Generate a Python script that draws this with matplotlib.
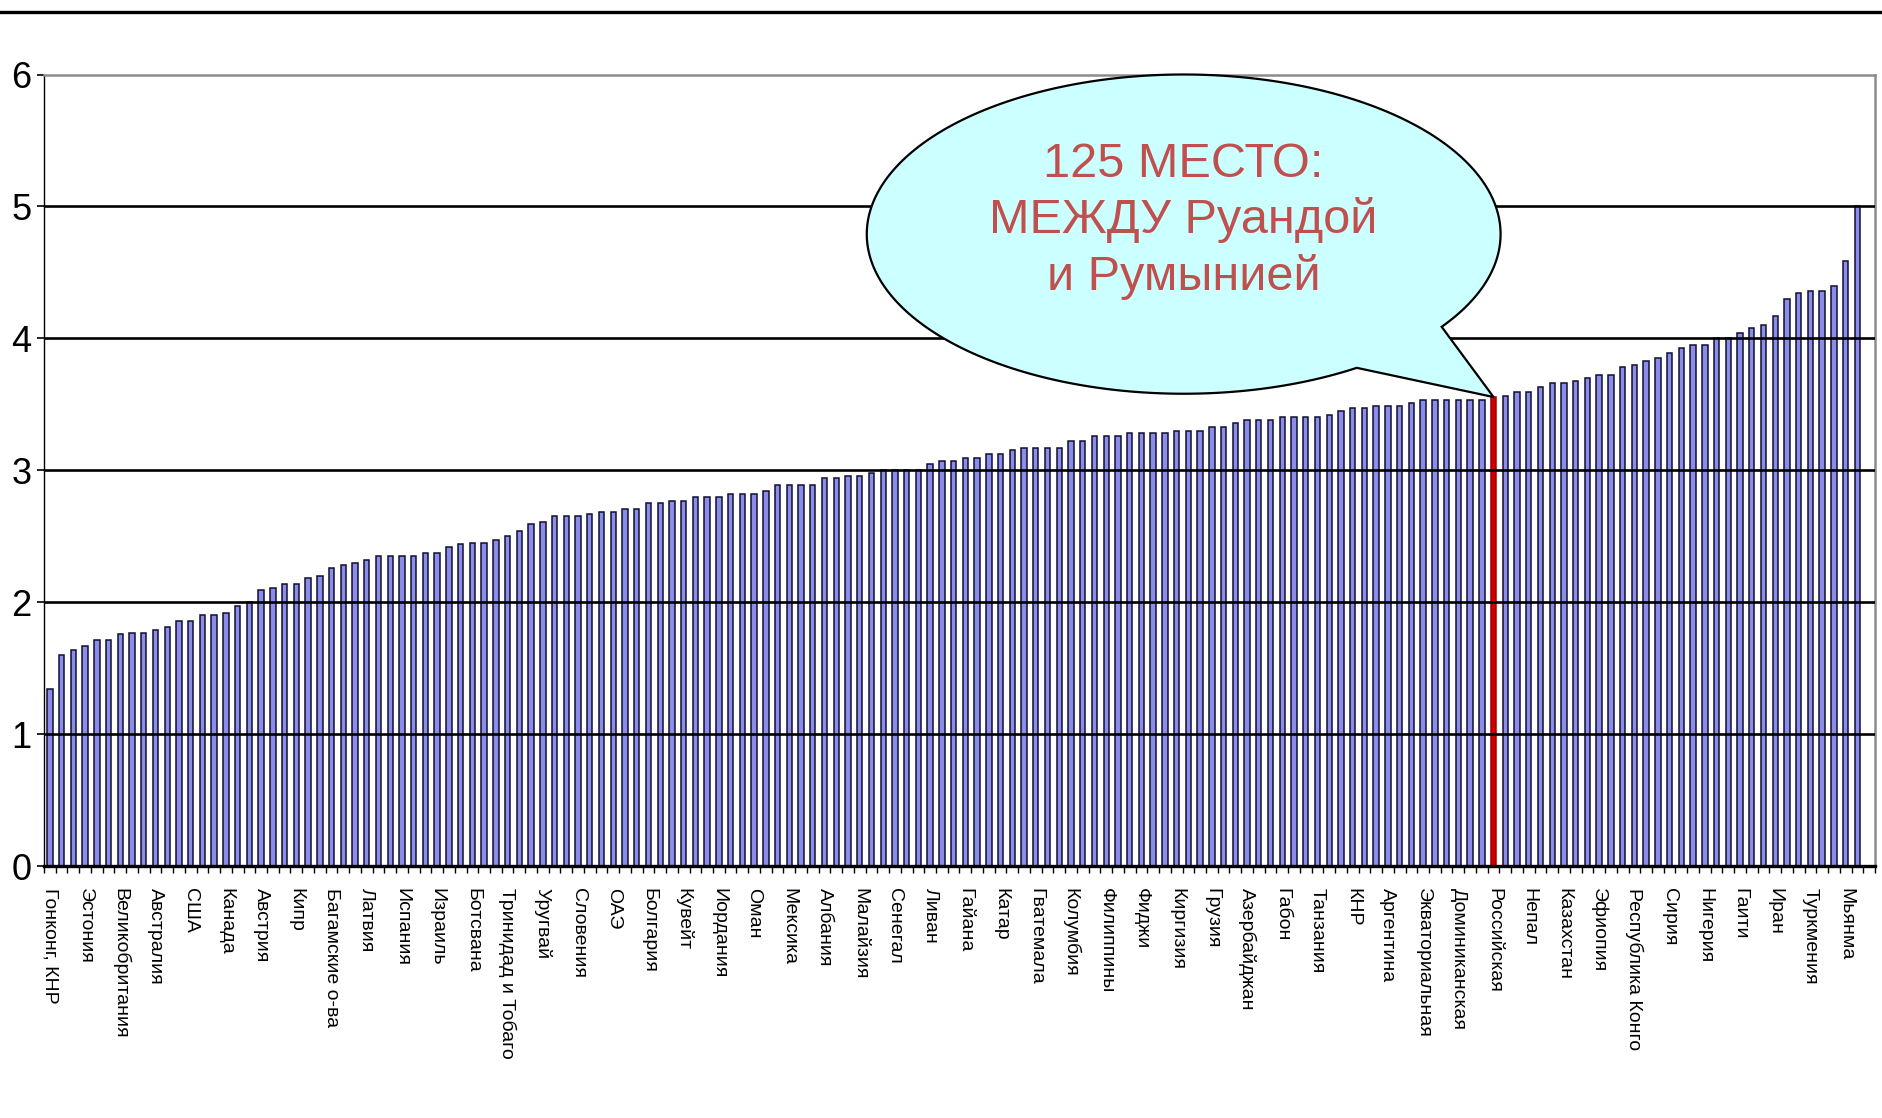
import numpy as np
import matplotlib
matplotlib.use("Agg")
import matplotlib.pyplot as plt
from matplotlib.patches import Polygon
from matplotlib.lines import Line2D

plt.rcParams['font.family'] = ['Liberation Sans', 'DejaVu Sans']

# ---- data: indicator values by country, sorted ascending ----
values = [
    1.34, 1.60, 1.64, 1.67, 1.71, 1.71, 1.76, 1.77, 1.77, 1.79,
    1.81, 1.86, 1.86, 1.90, 1.90, 1.92, 1.97, 2.00, 2.09, 2.11,
    2.14, 2.14, 2.18, 2.20, 2.26, 2.28, 2.30, 2.32, 2.35, 2.35,
    2.35, 2.35, 2.37, 2.37, 2.42, 2.44, 2.45, 2.45, 2.47, 2.50,
    2.54, 2.59, 2.61, 2.65, 2.65, 2.65, 2.67, 2.68, 2.68, 2.71,
    2.71, 2.75, 2.75, 2.77, 2.77, 2.80, 2.80, 2.80, 2.82, 2.82,
    2.82, 2.84, 2.89, 2.89, 2.89, 2.89, 2.94, 2.94, 2.96, 2.96,
    2.98, 3.00, 3.00, 3.00, 3.00, 3.05, 3.07, 3.07, 3.09, 3.09,
    3.12, 3.12, 3.15, 3.17, 3.17, 3.17, 3.17, 3.22, 3.22, 3.26,
    3.26, 3.26, 3.28, 3.28, 3.28, 3.28, 3.30, 3.30, 3.30, 3.33,
    3.33, 3.36, 3.38, 3.38, 3.38, 3.40, 3.40, 3.40, 3.40, 3.42,
    3.45, 3.47, 3.47, 3.49, 3.49, 3.49, 3.51, 3.53, 3.53, 3.53,
    3.53, 3.53, 3.53, 3.555, 3.565, 3.59, 3.59, 3.63, 3.66, 3.66,
    3.68, 3.70, 3.72, 3.72, 3.78, 3.80, 3.83, 3.85, 3.89, 3.93,
    3.95, 3.95, 4.00, 4.00, 4.04, 4.08, 4.10, 4.17, 4.30, 4.34,
    4.36, 4.36, 4.40, 4.59, 5.00,
]

# only every third country is labelled on the axis
countries = [
    'Гонконг, КНР', 'Эстония', 'Великобритания', 'Австралия', 'США',
    'Канада', 'Австрия', 'Кипр', 'Багамские о-ва', 'Латвия', 'Испания',
    'Израиль', 'Ботсвана', 'Тринидад и Тобаго', 'Уругвай', 'Словения',
    'ОАЭ', 'Болгария', 'Кувейт', 'Иордания', 'Оман', 'Мексика', 'Албания',
    'Малайзия', 'Сенегал', 'Ливан', 'Гайана', 'Катар', 'Гватемала',
    'Колумбия', 'Филиппины', 'Фиджи', 'Киргизия', 'Грузия', 'Азербайджан',
    'Габон', 'Танзания', 'КНР', 'Аргентина', 'Экваториальная',
    'Доминиканская', 'Российская', 'Непал', 'Казахстан', 'Эфиопия',
    'Республика Конго', 'Сирия', 'Нигерия', 'Гаити', 'Иран', 'Туркмения',
    'Мьянма',
]
label_step = 3
highlight = 'Российская'
callout_text = '125 МЕСТО:\nМЕЖДУ Руандой\nи Румынией'

# ---- plotting ----
W, H = 1883, 1118
fig = plt.figure(figsize=(W / 100, H / 100), dpi=100)
ax = fig.add_axes([44 / W, 1 - 866 / H, (1875 - 44) / W, (866 - 74.5) / H])

n = len(values)
x = np.arange(n)
hl_idx = countries.index(highlight) * label_step

colors = ['#8C8CEA'] * n
edges = ['#101030'] * n
colors[hl_idx] = '#D00000'
edges[hl_idx] = '#A00000'
ax.bar(x, values, width=0.46, color=colors, edgecolor=edges, linewidth=1.1, zorder=2)

ax.set_xlim(-0.5, n + 0.5)
ax.set_ylim(0, 6)

# horizontal gridlines
for yv in range(1, 6):
    ax.axhline(yv, color='black', linewidth=1.9, zorder=3)

# y axis
ax.set_yticks(range(0, 7))
ax.set_yticklabels([str(v) for v in range(0, 7)],
                   family=['Liberation Sans Narrow', 'DejaVu Sans Condensed', 'Liberation Sans'],
                   fontsize=26)
ax.tick_params(axis='y', length=5, width=1.2, pad=4)

# x axis: tick marks between categories, labels on every third bar
ax.set_xticks(np.arange(-0.5, n + 1.0, 1.0))
ax.set_xticklabels([])
ax.tick_params(axis='x', which='major', length=5, width=1.0, direction='out')
lab_pos = np.arange(0, len(countries) * label_step, label_step)
ax.set_xticks(lab_pos, minor=True)
ax.set_xticklabels(countries, minor=True, rotation=270, fontsize=14,
                   va='top', ha='center')
ax.tick_params(axis='x', which='minor', length=0, pad=16)

for side in ['top', 'right']:
    ax.spines[side].set_color('#8c8c8c')
    ax.spines[side].set_linewidth(1.8)
ax.spines['left'].set_linewidth(1.0)
ax.spines['bottom'].set_linewidth(2.4)
ax.spines['bottom'].set_zorder(4)

# speech bubble pointing at the highlighted bar
cx, cy, a, b = 96.6, 4.79, 27.0, 1.21
t = np.radians(np.linspace(-35.5, 303.1, 300))
pts = np.column_stack([cx + a * np.cos(t), cy + b * np.sin(t)])
pts = np.vstack([pts, [hl_idx, values[hl_idx]]])
bubble = Polygon(pts, closed=True, facecolor='#CCFFFF', edgecolor='black',
                 linewidth=1.6, zorder=5, clip_on=False)
ax.add_patch(bubble)
ax.text(cx, 4.89, callout_text, ha='center', va='center', fontsize=35,
        color='#C0504D', linespacing=1.28, zorder=6)

# rule across the top of the slide
fig.add_artist(Line2D([0, 1], [1 - 12 / H, 1 - 12 / H], color='black', linewidth=2.4))

fig.savefig('out.png', dpi=100)
